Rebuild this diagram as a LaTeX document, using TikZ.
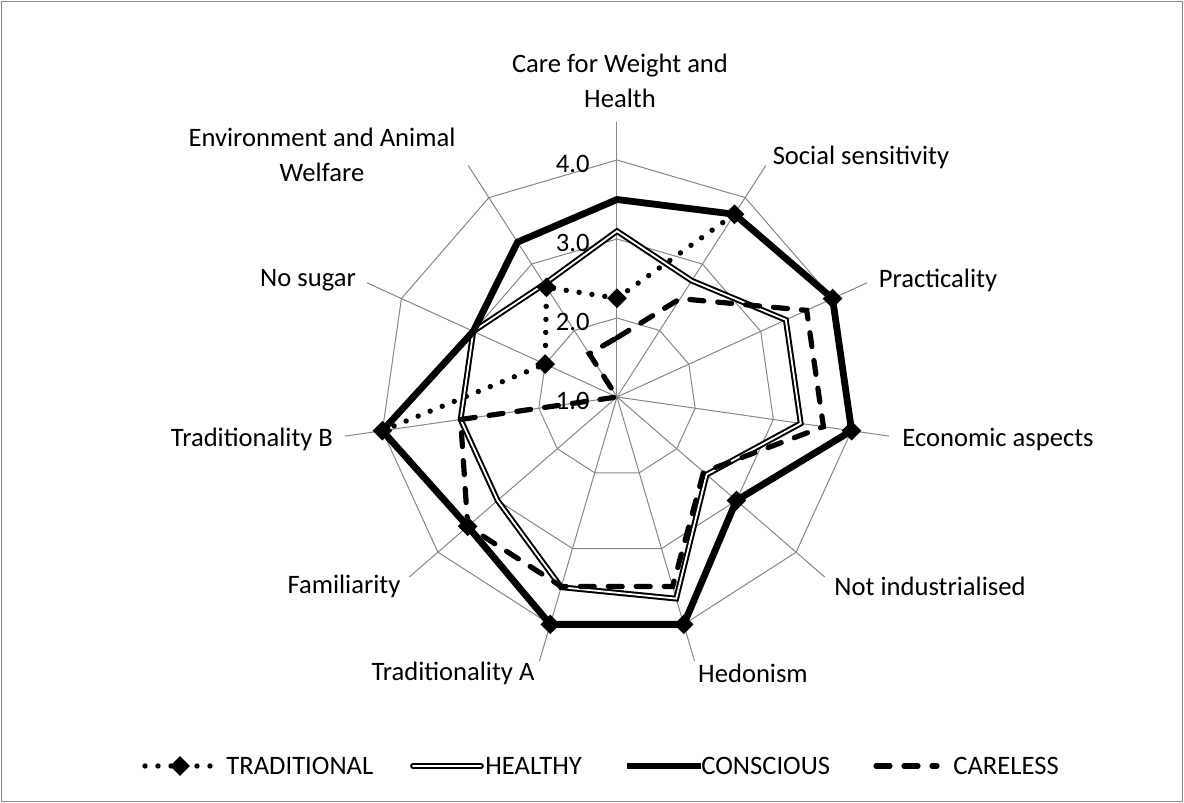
\documentclass[tikz,border=0pt]{standalone}
\usepackage{fontspec}
\setmainfont{Carlito}
\usetikzlibrary{positioning,shapes.geometric}
\definecolor{gridgray}{RGB}{134,134,134}

\begin{document}
\begin{tikzpicture}[x=0.5pt, y=0.5pt,
            grid/.style={draw=gridgray, line width=0.5pt},
            axislabel/.style={font=\fontsize{13.3}{17.5}\selectfont, align=center, inner sep=0pt},
            tick/.style={font=\fontsize{13.3}{15}\selectfont, anchor=east, inner sep=0pt},
            legtext/.style={font=\fontsize{13.3}{15}\selectfont, anchor=west, inner sep=0pt},
            traditional/.style={line width=2.7pt, line cap=round, dash pattern=on 0pt off 6.5pt},
            healthy/.style={line width=1pt, double=white, double distance=0.9pt},
            conscious/.style={line width=3.4pt},
            careless/.style={line width=2.6pt, line cap=round, dash pattern=on 7pt off 7pt},
            marker/.style={diamond, fill=black, inner sep=0pt, minimum size=10pt}]
            \useasboundingbox (-617,-406) rectangle (567,397);
            \draw[gridgray, line width=0.5pt] (-615,-404) rectangle (565,395);

            % spokes and rings
            \foreach \k in {0,...,10}
                \draw[grid] (0,0) -- ({90-\k*360/11}:275);
            \foreach \r in {1,2,3}
                \draw[grid] (90:{\r*79}) \foreach \k in {1,...,10}{-- ({90-\k*360/11}:{\r*79})} -- cycle;
            \foreach \r [count=\i from 0] in {1.0,2.0,3.0,4.0}
                \node[tick] (tick\i) at (-27,{\i*79-4}) {\r};

            % category labels
            \node[axislabel] (care)     at (3,316)     {Care for Weight and\\Health};
            \node[axislabel] (social)   at (244,240)   {Social sensitivity};
            \node[axislabel] (pract)    at (321,117)   {Practicality};
            \node[axislabel] (econ)     at (381,-42)   {Economic aspects};
            \node[axislabel] (notind)   at (313,-189)  {Not industrialised};
            \node[axislabel] (hedon)    at (136,-276)  {Hedonism};
            \node[axislabel] (tradA)    at (-164,-276) {Traditionality A};
            \node[axislabel] (famil)    at (-273,-189) {Familiarity};
            \node[axislabel] (tradB)    at (-365,-42)  {Traditionality B};
            \node[axislabel] (nosugar)  at (-309,117)  {No sugar};
            \node[axislabel] (environ)  at (-295,242)  {Environment and Animal\\Welfare};

            % data points
            \foreach \v [count=\i from 0] in {2.25,3.75,4.0,4.0,3.0,4.0,4.0,3.5,4.0,2.0,2.65}
                \coordinate (t\i) at ({90-\i*360/11}:{(\v-1)*79});
            \foreach \v [count=\i from 0] in {3.1,2.75,3.35,3.35,2.5,3.66,3.51,3.0,3.0,3.0,2.7}
                \coordinate (h\i) at ({90-\i*360/11}:{(\v-1)*79});
            \foreach \v [count=\i from 0] in {3.5,3.75,4.0,4.0,3.0,4.0,4.0,3.5,4.0,3.0,3.33}
                \coordinate (c\i) at ({90-\i*360/11}:{(\v-1)*79});
            \foreach \v [count=\i from 0] in {1.75,2.48,3.64,3.64,2.45,3.5,3.5,3.5,3.0,1.0,1.65}
                \coordinate (k\i) at ({90-\i*360/11}:{(\v-1)*79});

            \draw[traditional] (t0) \foreach \i in {1,...,10}{-- (t\i)} -- cycle;
            \draw[healthy]     (h0) \foreach \i in {1,...,10}{-- (h\i)} -- cycle;
            \draw[conscious]   (c0) \foreach \i in {1,...,10}{-- (c\i)} -- cycle;
            \draw[careless]    (k0) \foreach \i in {1,...,10}{-- (k\i)} -- cycle;
            \foreach \i in {0,...,10}
                \node[marker] at (t\i) {};

            % legend
            \node[legtext] (legtrad) at (-391,-369) {TRADITIONAL};
            \node[legtext] (leghlth) at (-132,-369) {HEALTHY};
            \node[legtext] (legcons) at (84,-369)   {CONSCIOUS};
            \node[legtext] (legcare) at (336,-369)  {CARELESS};
            \coordinate (lt) at (-472,-369);
            \coordinate (lh) at (-204,-369);
            \coordinate (lc) at (10,-369);
            \coordinate (lk) at (259,-369);
            \draw[traditional] (lt) -- ([xshift=-5]legtrad.west);
            \node[marker] at (-437,-369) {};
            \draw[healthy, line cap=round]   (lh) -- ([xshift=-2]leghlth.west);
            \draw[conscious] (lc) -- (legcons.west);
            \draw[careless]  (lk) -- ([xshift=-8]legcare.west);
\end{tikzpicture}
\end{document}
